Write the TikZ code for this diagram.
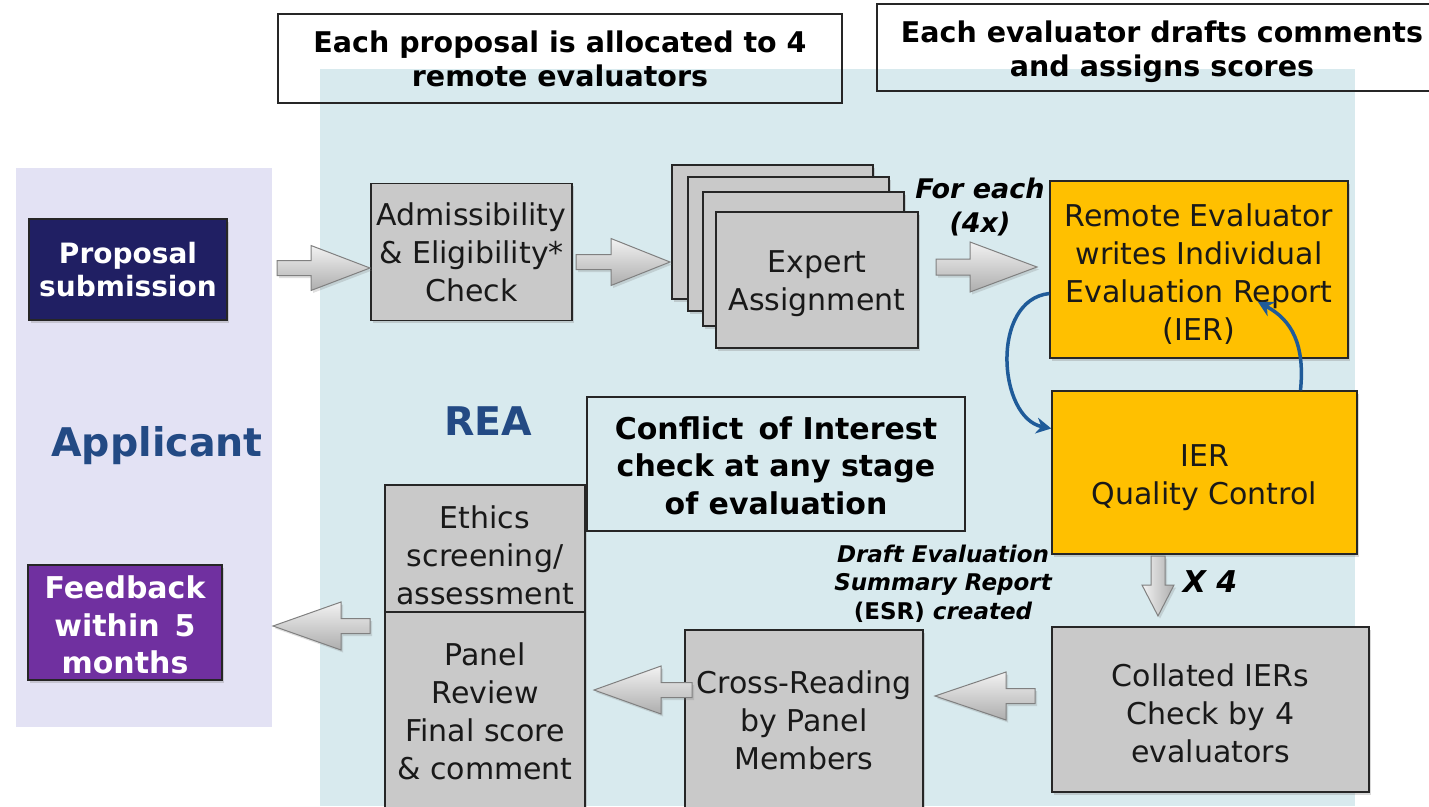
\documentclass[tikz,border=0pt]{standalone}
\usepackage{fontspec}
\setmainfont{DejaVu Sans}
\usetikzlibrary{shadows,arrows.meta}
\definecolor{reabg}{HTML}{D8EAEE}
\definecolor{appbg}{HTML}{E3E2F4}
\definecolor{boxgray}{HTML}{C9C9C9}
\definecolor{navybox}{HTML}{201F63}
\definecolor{purplebox}{HTML}{7030A0}
\definecolor{orangebox}{HTML}{FFC000}
\definecolor{labelblue}{HTML}{234A84}
\definecolor{loopblue}{HTML}{1F5B99}
\newcommand\tgap[1]{\rule{0pt}{#1pt}}
\tikzset{
  softshadow/.style={drop shadow={shadow xshift=2pt,shadow yshift=-2.5pt,opacity=0.3}},
  box/.style={draw=black!85, line width=1.5pt, align=center, inner sep=0pt,
    font=\fontsize{30}{38}\selectfont, text=black!90, softshadow},
  graybox/.style={box, fill=boxgray},
  orangebx/.style={box, fill=orangebox},
  titlebox/.style={draw=black!85, line width=1.5pt, align=center, inner sep=0pt,
    font=\bfseries\fontsize{28.5}{34}\selectfont},
  biglabel/.style={font=\bfseries\fontsize{39.5}{42}\selectfont, text=labelblue},
  notelabel/.style={align=center, inner sep=0pt},
  barrow/.style={draw=black!50, line width=1pt, line join=miter, top color=black!5, bottom color=black!32,
    drop shadow={shadow xshift=2pt,shadow yshift=-2.5pt,opacity=0.25}},
  looparrow/.style={draw=loopblue, line width=3.5pt, -{Stealth[length=15pt,width=16pt]}}
}
% horizontal block arrow: #1 tail x, #2 tip x, #3 y, #4 signed head length, #5 head half width, #6 shaft half width
\newcommand\hbarrow[6]{%
  \path[barrow] (#1,{#3-#6}) -- ({#2-#4},{#3-#6}) -- ({#2-#4},{#3-#5}) -- (#2,#3)
    -- ({#2-#4},{#3+#5}) -- ({#2-#4},{#3+#6}) -- (#1,{#3+#6}) -- cycle;}
% vertical block arrow: #1 x, #2 tail y, #3 tip y, #4 head length, #5 head half, #6 shaft half
\newcommand\vbarrow[6]{%
  \path[barrow, left color=black!5, right color=black!32] ({#1-#6},#2) -- ({#1-#6},{#3-#4}) -- ({#1-#5},{#3-#4}) -- (#1,#3)
    -- ({#1+#5},{#3-#4}) -- ({#1+#6},{#3-#4}) -- ({#1+#6},#2) -- cycle;}
\begin{document}
\begin{tikzpicture}[x=1pt,y=-1pt]
\useasboundingbox (0,0) rectangle (1429,806);
% background panels
\fill[appbg] (16,168) rectangle (272,727);
\fill[reabg] (320,69) rectangle (1355,806);
% title boxes
\node[titlebox, minimum width=564, minimum height=89] (t1) at (560,58.5) {Each proposal is allocated to 4\\remote evaluators};
\node[titlebox, minimum width=570, minimum height=87] (t2) at (1162,47.5) {\tgap{29.5}Each evaluator drafts comments\\and assigns scores};
% region labels
\node[biglabel] (app) at (157,446) {Applicant};
\node[biglabel] (rea) at (488,421) {REA};
% applicant boxes
\node[box, fill=navybox, text=white, font=\bfseries\fontsize{28}{33}\selectfont, minimum width=198, minimum height=101] (prop) at (128,269.5) {Proposal\\submission};
\node[box, fill=purplebox, text=white, font=\bfseries\fontsize{30}{37.5}\selectfont, minimum width=194, minimum height=115] (feed) at (125,622.5) {\tgap{27.5}Feedback\\within\enspace 5\\months};
% top row
\node[graybox, minimum width=201, minimum height=137] (adm) at (471.5,252) {Admissibility\\\& Eligibility*\\Check};
\node[graybox, minimum width=201, minimum height=134] (ea1) at (772.5,232) {};
\node[graybox, minimum width=201, minimum height=134] (ea2) at (788.5,244) {};
\node[graybox, minimum width=201, minimum height=134] (ea3) at (803.5,259) {};
\node[graybox, minimum width=202, minimum height=136] (ea4) at (817,280) {\tgap{30}Expert\\Assignment};
\node[notelabel, font=\bfseries\itshape\fontsize{27}{34}\selectfont] (foreach) at (980,207) {For each\\(4x)};
\node[orangebx, minimum width=298, minimum height=177] (rem) at (1199,269.5) {\tgap{31}Remote Evaluator\\writes Individual\\Evaluation Report\\(IER)};
\node[orangebx, minimum width=305, minimum height=163] (qc) at (1204.5,472.5) {\tgap{33}IER\\Quality Control};
% bottom row
\node[graybox, minimum width=317, minimum height=165] (col) at (1210.5,709.5) {\tgap{30}Collated IERs\\Check by 4\\evaluators};
\node[graybox, minimum width=238, minimum height=180] (cross) at (804,720) {Cross-Reading\\by Panel\\Members};
\node[graybox, minimum width=200, minimum height=127] (eth) at (485,548.5) {\tgap{36}Ethics\\screening/\\assessment};
\node[graybox, minimum width=200, minimum height=198] (pan) at (485,711) {Panel\\Review\\Final score\\\& comment};
\node[draw=black!85, line width=1.5pt, notelabel, minimum width=378, minimum height=134, font=\bfseries\fontsize{30}{37.5}\selectfont] (conf) at (776,464) {\tgap{26}Conflict\enspace of Interest\\check at any stage\\of evaluation};
\node[notelabel, font=\bfseries\fontsize{23}{28.5}\selectfont] (esr) at (943,583.5) {\itshape Draft Evaluation\\\itshape Summary Report\\(ESR) \itshape created};
\node[font=\bfseries\itshape\fontsize{30}{32}\selectfont] (x4) at (1210,582) {X 4};
% block arrows
\hbarrow{277}{370}{268}{59}{22.5}{7.5}
\hbarrow{576}{670}{262}{59}{23.5}{7.5}
\hbarrow{936}{1037}{267}{67}{25}{8}
\hbarrow{1035}{935}{696}{-71}{24}{7.5}
\hbarrow{692}{594}{690}{-67}{24}{7.5}
\hbarrow{370}{273}{626}{-68}{24}{7.5}
\vbarrow{1158}{556}{616}{31}{16}{7}
% loop arrows
\coordinate (loopend) at (1258,302);
\draw[looparrow] ([yshift=-24pt]rem.west) .. controls (990,300) and (998,418) .. ([yshift=44pt]qc.west);
\draw[looparrow] ([xshift=96pt]qc.north) .. controls (1305,345) and (1292,320) .. (loopend);
\end{tikzpicture}
\end{document}
